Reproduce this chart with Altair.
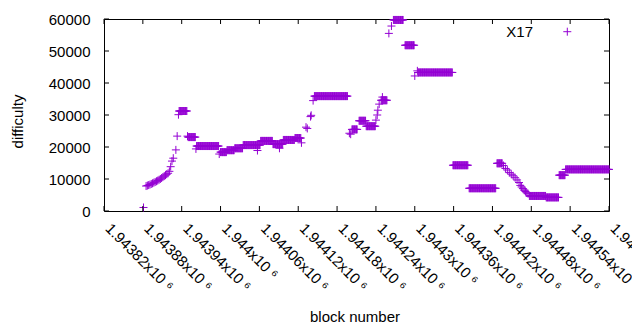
import altair as alt
import pandas as pd

# ---- data ----
# constant runs of blocks: start block, end block, difficulty
run_start = [1943936, 1943950, 1943963, 1944000, 1944010, 1944022, 1944035, 1944062,
             1944081, 1944097, 1944115, 1944145, 1944203, 1944214, 1944225, 1944248,
             1944267, 1944285, 1944305, 1944359, 1944384, 1944427, 1944477, 1944503,
             1944523, 1944533]
run_end = [1943948, 1943961, 1943997, 1944009, 1944021, 1944034, 1944061, 1944080,
           1944096, 1944114, 1944124, 1944196, 1944211, 1944224, 1944239, 1944257,
           1944282, 1944299, 1944358, 1944382, 1944425, 1944435, 1944502, 1944522,
           1944532, 1944600]
run_value = [31250, 23100, 20300, 18400, 19000, 19600, 20600, 21900,
             20900, 22200, 22800, 35900, 25500, 28200, 26500, 34600,
             59700, 51800, 43300, 14300, 7100, 14900, 4700, 4250,
             11200, 13000]

# individual points
pt_block = [1943881,
            1943885, 1943887, 1943889, 1943891, 1943893, 1943895, 1943897, 1943899,
            1943901, 1943903, 1943905, 1943907, 1943909, 1943911, 1943913, 1943915,
            1943917, 1943919, 1943921, 1943923, 1943925, 1943927, 1943931, 1943933,
            1943935, 1943949, 1943962, 1943998, 1944057, 1944091, 1944125,
            1944132, 1944134, 1944139, 1944140, 1944143, 1944199, 1944201,
            1944240, 1944242, 1944243, 1944245, 1944250, 1944260, 1944264,
            1944300, 1944304,
            1944437, 1944440, 1944443, 1944446, 1944449, 1944452, 1944455, 1944458,
            1944461, 1944463, 1944465, 1944467, 1944469, 1944471, 1944473, 1944475]
pt_value = [1100,
            7800, 7950, 8100, 8250, 8450, 8650, 8850, 9050,
            9300, 9500, 9750, 10000, 10300, 10600, 10900, 11200,
            11500, 11800, 12400, 13850, 15600, 16500, 19100, 23400,
            30100, 23400, 19400, 17800, 18900, 19600, 21300,
            26200, 25800, 29500, 29900, 34500, 24300, 24000,
            28400, 30000, 31500, 33400, 35600, 55500, 57800,
            42200, 43800,
            14200, 13300, 12800, 12000, 11500, 11000, 10400, 9700,
            8900, 8000, 7500, 7000, 6500, 6100, 5700, 5400]

x_ticks = [1943820, 1943880, 1943940, 1944000, 1944060, 1944120, 1944180,
           1944240, 1944300, 1944360, 1944420, 1944480, 1944540, 1944600]
y_ticks = [0, 10000, 20000, 30000, 40000, 50000, 60000]
series_name = ["X17"]

rows = []
for s, e, v in zip(run_start, run_end, run_value):
    for b in range(s, e + 1):
        rows.append((b, v))
for b, v in zip(pt_block, pt_value):
    rows.append((b, v))
df = pd.DataFrame(rows, columns=["block", "difficulty"])

xt_df = pd.DataFrame({"block": x_ticks})
yt_df = pd.DataFrame({"difficulty": y_ticks})
leg_df = pd.DataFrame({"series": series_name})

W, H = 505, 192
PURPLE = "#9400d3"
PLUS = "M-1,0L1,0M0,-1L0,1"
FONT = "Liberation Sans"

xs = alt.Scale(domain=[1943820, 1944600], nice=False, zero=False)
ys = alt.Scale(domain=[0, 60000], nice=False, zero=False)

x_axis = alt.Axis(
    values=x_ticks,
    labelExpr="format(datum.value / 1000000, '') + 'x10 \u2076'",
    labelAngle=45, labelAlign="left", labelBaseline="alphabetic", labelPadding=18,
    labelOverlap=False, labelFlush=False, labelBound=False,
    ticks=False, domain=False, grid=False,
    title="block number", titleX=250.5, titleY=110.5,
    titleBaseline="alphabetic", titleAlign="center")
y_axis = alt.Axis(
    values=y_ticks, format="d", ticks=False, domain=False, grid=False,
    labelPadding=14, labelOverlap=False, labelFlush=False,
    title="difficulty", titleX=-87, titleY=102, titleAngle=-90,
    titleAlign="center", titleBaseline="middle")

points = alt.Chart(df).mark_point(
    shape=PLUS, filled=False, size=64, strokeWidth=1, color=PURPLE, opacity=1
).encode(
    x=alt.X("block:Q", scale=xs, axis=x_axis),
    y=alt.Y("difficulty:Q", scale=ys, axis=y_axis),
)

xt_bottom = alt.Chart(xt_df).mark_rule(color="black", strokeWidth=1).encode(
    x=alt.X("block:Q", scale=xs, axis=x_axis), y=alt.value(H), y2=alt.value(H - 5))
xt_top = alt.Chart(xt_df).mark_rule(color="black", strokeWidth=1).encode(
    x=alt.X("block:Q", scale=xs, axis=x_axis), y=alt.value(0), y2=alt.value(5))
yt_left = alt.Chart(yt_df).mark_rule(color="black", strokeWidth=1).encode(
    y=alt.Y("difficulty:Q", scale=ys, axis=y_axis), x=alt.value(0), x2=alt.value(5))
yt_right = alt.Chart(yt_df).mark_rule(color="black", strokeWidth=1).encode(
    y=alt.Y("difficulty:Q", scale=ys, axis=y_axis), x=alt.value(W), x2=alt.value(W - 5))

leg_text = alt.Chart(leg_df).mark_text(
    align="right", baseline="middle", font=FONT, fontSize=15, color="black"
).encode(text="series:N", x=alt.value(429), y=alt.value(12.7))
leg_point = alt.Chart(leg_df).mark_point(
    shape=PLUS, filled=False, size=64, strokeWidth=1, color=PURPLE, opacity=1
).encode(x=alt.value(463.3), y=alt.value(12.7))

chart = alt.layer(points, xt_bottom, xt_top, yt_left, yt_right, leg_text, leg_point).properties(
    width=W, height=H,
    autosize=alt.AutoSizeParams(type="none"),
    padding={"left": 96, "top": 11, "right": 23, "bottom": 118},
).configure_view(
    stroke="black", strokeWidth=1
).configure_axis(
    labelFont=FONT, labelFontSize=15, labelColor="black", labelOverlap=False,
    titleFont=FONT, titleFontSize=15, titleFontWeight="normal", titleColor="black",
)

chart.save("out.html", embed_options={"renderer": "svg", "actions": False})
